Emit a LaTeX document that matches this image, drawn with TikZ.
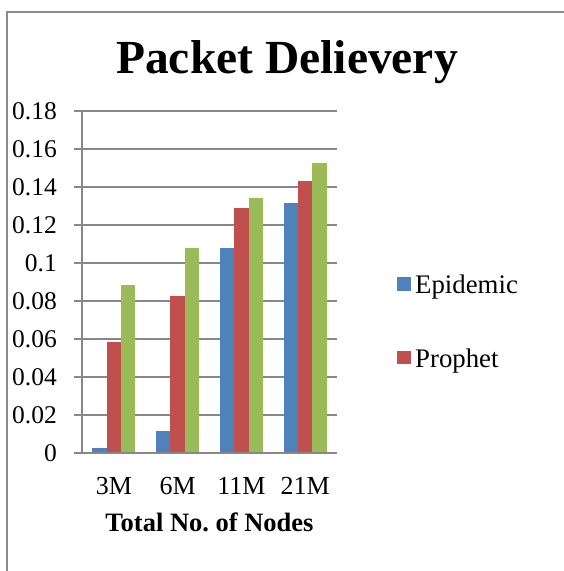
\documentclass[tikz,border=0pt]{standalone}
\usepackage{fontspec}
\setmainfont{Liberation Serif}
\frenchspacing
\definecolor{epiblue}{HTML}{4F81BD}
\definecolor{prored}{HTML}{C0504D}
\definecolor{thirdgreen}{HTML}{9BBB59}
\definecolor{axisgray}{HTML}{878787}
\definecolor{framegray}{HTML}{8C8C8C}
\begin{document}
\begin{tikzpicture}[x=1pt,y=-1pt,
  framestyle/.style={draw=framegray,line width=2pt},
  gridstyle/.style={draw=axisgray,line width=1.8pt},
  ticklabel/.style={anchor=base east,inner sep=0pt,font=\fontsize{25.5}{30}\selectfont},
  catlabel/.style={anchor=base,inner sep=0pt,font=\fontsize{26}{30}\selectfont},
  legtext/.style={anchor=base west,inner sep=0pt,font=\fontsize{26.8}{31}\selectfont},
  titlestyle/.style={anchor=base,inner sep=0pt,font=\fontsize{47.5}{54}\selectfont\bfseries},
  axtitle/.style={anchor=base,inner sep=0pt,font=\fontsize{26.5}{31}\selectfont\bfseries}]
\useasboundingbox (0,0) rectangle (564,571);
\fill[white] (0,0) rectangle (564,571);
% frame
\draw[framestyle] (7,571) -- (7,12) -- (564,12);
% title
\node[titlestyle] (title) at (287,73) {Packet Delievery};
% gridlines and tick labels
\foreach \k/\lab in {1/0.02,2/0.04,3/0.06,4/0.08,5/0.1,6/0.12,7/0.14,8/0.16,9/0.18}{
  \pgfmathsetmacro{\yy}{453.3-38*\k}
  \draw[gridstyle] (74,\yy) -- (337,\yy);
  \node[ticklabel] (yl\k) at (57,\yy+8) {\lab};
}
\node[ticklabel] (yl0) at (57,461.3) {0};
% bars
\foreach \i/\a/\b/\c/\lab in {0/0.0028/0.0584/0.0886/3M,1/0.0116/0.0828/0.108/6M,2/0.108/0.1291/0.1345/11M,3/0.1316/0.1432/0.1528/21M}{
  \pgfmathsetmacro{\cx}{82+63.75*(\i+0.5)}
  \fill[epiblue] (\cx-21.5,453.3) rectangle (\cx-7.2,453.3-1900*\a);
  \fill[prored] (\cx-7.2,453.3) rectangle (\cx+7.2,453.3-1900*\b);
  \fill[thirdgreen] (\cx+7.2,453.3) rectangle (\cx+21.5,453.3-1900*\c);
  \node[catlabel] (xl\i) at (\cx,494.3) {\lab};
}
% axes
\draw[gridstyle] (74,453.3) -- (337,453.3);
\draw[gridstyle] (82,111.3) -- (82,453.3);
% axis title
\node[axtitle] (xtitle) at (209.5,531.7) {Total No. of Nodes};
% legend
\fill[epiblue] (397.3,277.3) rectangle (411,291);
\node[legtext] (leg1) at (415,293.3) {Epidemic};
\fill[prored] (397.3,350.7) rectangle (411,364.4);
\node[legtext] (leg2) at (415,367.3) {Prophet};
\end{tikzpicture}
\end{document}
